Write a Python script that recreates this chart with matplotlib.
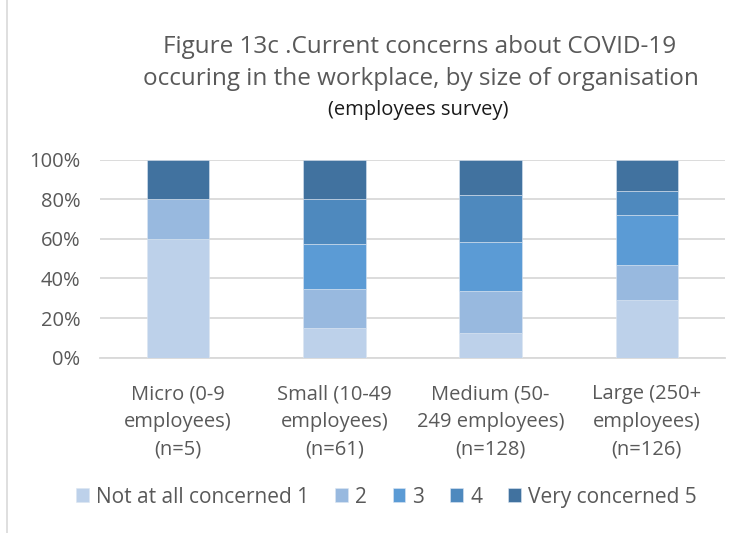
import matplotlib.pyplot as plt
import numpy as np

# Survey data: share of employees per concern level, by organisation size
categories = ["Micro (0-9\nemployees)\n(n=5)",
              "Small (10-49\nemployees)\n(n=61)",
              "Medium (50-\n249 employees)\n(n=128)",
              "Large (250+\nemployees)\n(n=126)"]
levels = ["Not at all concerned 1", "2", "3", "4", "Very concerned 5"]
not_at_all = [60.0, 14.8, 12.6, 29.1]
level2 = [20.0, 19.7, 21.1, 17.7]
level3 = [0.0, 22.9, 24.6, 25.1]
level4 = [0.0, 22.9, 23.9, 12.1]
very = [20.0, 19.7, 17.8, 16.0]
colors = ["#BDD1EA", "#98B9DF", "#5B9BD5", "#4E89BE", "#41729F"]

plt.rcParams['font.family'] = ['Open Sans', 'DejaVu Sans']

fig = plt.figure(figsize=(7.5, 5.33), dpi=100)
ax = fig.add_axes([0.1333, 0.3289, 0.8333, 0.3715])

x = np.arange(len(categories))
bottom = np.zeros(len(categories))
for name, vals, c in zip(levels, [not_at_all, level2, level3, level4, very], colors):
    ax.bar(x, vals, 0.4, bottom=bottom, color=c, label=name,
           edgecolor="#DCE6F2", linewidth=0.4, zorder=3)
    bottom += np.array(vals)

ax.set_xlim(-0.5, 3.5)
ax.set_ylim(0, 100)
ax.set_yticks(np.arange(0, 101, 20))
ax.set_yticklabels([f"{v}%" for v in range(0, 101, 20)])
ax.yaxis.grid(True, color="#D9D9D9", linewidth=1.3, zorder=0)
ax.set_xticks(x)
ax.set_xticklabels(categories, linespacing=1.5)
ax.tick_params(axis="both", length=0, labelcolor="#595959")
ax.tick_params(axis="x", labelsize=14.5, pad=19)
ax.tick_params(axis="y", labelsize=14.5, pad=14)
for s in ["top", "right", "left"]:
    ax.spines[s].set_visible(False)
ax.spines["bottom"].set_color("#D9D9D9")
ax.spines["bottom"].set_linewidth(1.3)

fig.text(0.559, 0.912, "Figure 13c .Current concerns about COVID-19",
         ha="center", va="center", fontsize=17.5, color="#595959")
fig.text(0.561, 0.852, "occuring in the workplace, by size of organisation",
         ha="center", va="center", fontsize=17.5, color="#595959")
fig.text(0.557, 0.794, "(employees survey)",
         ha="center", va="center", fontsize=14.5, color="#1a1a1a")

fig.legend(loc="center", bbox_to_anchor=(0.515, 0.0675), ncol=5, frameon=False,
           fontsize=15, labelcolor="#595959", handlelength=0.62,
           handleheight=0.62, handletextpad=0.33, columnspacing=1.25)

# chart border on the left
fig.add_artist(plt.Line2D([0.009, 0.009], [0, 1], color="#D9D9D9", linewidth=1.2))

fig.savefig("out.png", dpi=100)
